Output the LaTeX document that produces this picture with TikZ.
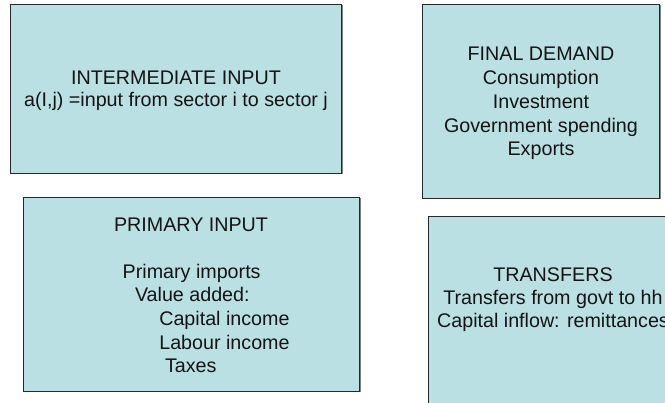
\documentclass[tikz,border=0pt]{standalone}
\usepackage{fontspec}
\setmainfont{Liberation Sans}
\definecolor{boxfill}{RGB}{187,224,227}
\definecolor{boxline}{RGB}{40,40,40}
\definecolor{boxshadow}{RGB}{120,130,132}
\begin{document}
\begin{tikzpicture}[x=1pt,y=-1pt,
  boxshape/.style={fill=boxfill, draw=boxline, line width=0.9pt},
  shadowshape/.style={fill=boxshadow},
  lbl/.style={anchor=base, inner sep=0pt, outer sep=0pt, text=black!92,
              font=\fontsize{19.7}{23.5}\selectfont},
  lblw/.style={lbl, anchor=base west}]
\useasboundingbox (0,0) rectangle (665,403);
\clip (0,0) rectangle (665,403);
\fill[white] (0,0) rectangle (665,403);
% shadows
\fill[shadowshape] (11.5,5.5) rectangle (342.5,174.5);
\fill[shadowshape] (423.5,5.5) rectangle (660.5,199.5);
\fill[shadowshape] (24.5,198.5) rectangle (360.5,392.5);
\fill[shadowshape] (429.5,217.5) rectangle (679.5,421.5);
% boxes
\path[boxshape] (10,4) rectangle (341,173);
\path[boxshape] (422,4) rectangle (659,198);
\path[boxshape] (23,197) rectangle (359,391);
\path[boxshape] (428,216) rectangle (678,420);
% intermediate input
\node[lbl] (ia) at (176,84.5) {INTERMEDIATE INPUT};
\node[lbl] (ib) at (176,106.5) {a(I,j) =input from sector i to sector j};
% final demand
\node[lbl] (fa) at (541,61) {FINAL DEMAND};
\node[lbl] (fb) at (541,84.7) {Consumption};
\node[lbl] (fc) at (541,108.4) {Investment};
\node[lbl] (fd) at (541,132.1) {Government spending};
\node[lbl] (fe) at (541,155.8) {Exports};
% primary input
\node[lbl] (pa) at (191,231.7) {PRIMARY INPUT};
\node[lblw] (pb) at (122.7,278.3) {Primary imports};
\node[lblw] (pc) at (135,301.8) {Value added:};
\node[lblw] (pd) at (159.3,325.5) {Capital income};
\node[lblw] (pe) at (159.3,349.2) {Labour income};
\node[lblw] (pf) at (165,373) {Taxes};
% transfers
\node[lbl] (ta) at (553,281.5) {TRANSFERS};
\node[lbl] (tb) at (553,304.7) {Transfers from govt to hh};
\node[lbl] (tc) at (553,327.9) {Capital inflow: remittances};
\end{tikzpicture}
\end{document}
